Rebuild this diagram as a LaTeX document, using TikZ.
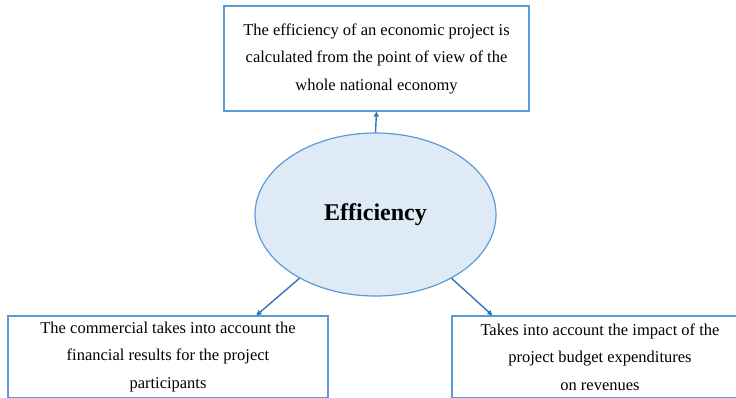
\documentclass[tikz,border=0pt]{standalone}
\usepackage{fontspec}
\setmainfont{Liberation Serif}
\usetikzlibrary{shapes.geometric,arrows.meta}
\definecolor{boxline}{RGB}{91,155,213}
\definecolor{ellfill}{RGB}{222,234,246}
\definecolor{arrowc}{RGB}{46,117,190}
\tikzset{
  textbox/.style={draw=boxline, line width=1.3pt, fill=white, inner sep=0pt, align=center,
    font=\fontsize{16.5}{27.5}\selectfont},
  conn/.style={draw=arrowc, line width=1.4pt, -{Triangle[length=5pt,width=5pt]}}
}
\begin{document}
\begin{tikzpicture}[x=1pt,y=-1pt]
\useasboundingbox (0,0) rectangle (736,397);
\node[textbox, minimum width=305, minimum height=105] (top) at (376.5,58.5)
  {The efficiency of an economic project is\\calculated from the point of view of the\\whole national economy};
\node[draw=boxline, line width=1.2pt, fill=ellfill, ellipse, minimum width=241, minimum height=163, inner sep=0pt,
  font=\fontsize{24}{26}\selectfont\bfseries] (ell) at (375.5,214.5) {Efficiency};
\node[textbox, minimum width=320, minimum height=82] (bl) at (168,357)
  {The commercial takes into account the\\financial results for the project\\participants};
\node[textbox, minimum width=296, minimum height=82] (br) at (600,357)
  {Takes into account the impact of the\\project budget expenditures\\on revenues};
\draw[conn] (ell.north) -- (top.south);
\draw[conn] (ell.220) -- ([xshift=249]bl.north west);
\draw[conn] (ell.320) -- ([xshift=41]br.north west);
\end{tikzpicture}
\end{document}
